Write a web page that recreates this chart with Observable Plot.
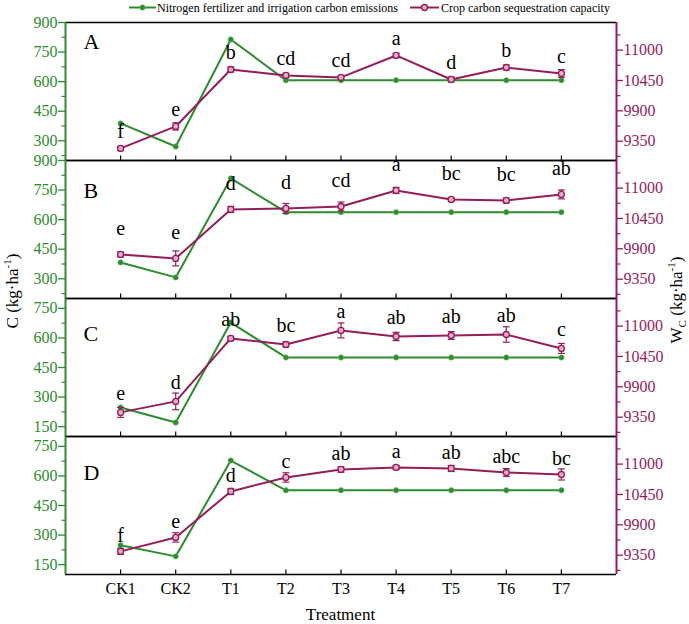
<!DOCTYPE html>
<html>
<head>
<meta charset="utf-8">
<script src="https://cdn.jsdelivr.net/npm/d3@7"></script>
<script src="https://cdn.jsdelivr.net/npm/@observablehq/plot@0.6"></script>
<style>
  body { margin: 0; background: #fff; }
  #chart { position: relative; width: 689px; height: 624px; font-family: "Liberation Serif", "Times New Roman", serif; }
  #chart svg { position: absolute; left: 0; }
  #overlay { top: 0; pointer-events: none; z-index: 2; }
</style>
</head>
<body>
<div id="chart"></div>
<script>
// Treatments along the x axis
const treatments = ["CK1", "CK2", "T1", "T2", "T3", "T4", "T5", "T6", "T7"];

// Nitrogen fertilizer and irrigation carbon emissions, C (kg·ha⁻¹), left axis
const emissionsA = [388, 271, 814, 607, 607, 607, 607, 607, 607];
const emissionsB = [383, 307, 809, 638, 638, 638, 638, 638, 638];
const emissionsC = [247, 171, 678, 501, 501, 501, 501, 501, 501];
const emissionsD = [248, 192, 678, 527, 527, 527, 527, 527, 527];

// Crop carbon sequestration capacity, Wc (kg·ha⁻¹), right axis, with error
const sequestrationA = [9219, 9617, 10649, 10541, 10505, 10903, 10468, 10685, 10577];
const sequestrationErrA = [35, 65, 45, 40, 35, 40, 45, 45, 70];
const sequestrationB = [9798, 9726, 10613, 10631, 10667, 10957, 10794, 10776, 10885];
const sequestrationErrB = [45, 135, 55, 90, 80, 55, 35, 45, 80];
const sequestrationC = [9437, 9636, 10776, 10667, 10921, 10812, 10830, 10848, 10595];
const sequestrationErrC = [90, 150, 40, 45, 135, 75, 70, 140, 90];
const sequestrationD = [9419, 9672, 10505, 10758, 10903, 10939, 10921, 10848, 10812];
const sequestrationErrD = [55, 85, 55, 85, 50, 35, 55, 70, 100];

// Significance letters for the sequestration series
const lettersA = ["f", "e", "b", "cd", "cd", "a", "d", "b", "c"];
const lettersB = ["e", "e", "d", "d", "cd", "a", "bc", "bc", "ab"];
const lettersC = ["e", "d", "ab", "bc", "a", "ab", "ab", "ab", "c"];
const lettersD = ["f", "e", "d", "c", "ab", "a", "ab", "abc", "bc"];

// Axis ticks
const leftTicksAB = [300, 450, 600, 750, 900];
const leftMinorAB = [225, 375, 525, 675, 825];
const leftTicksCD = [150, 300, 450, 600, 750];
const leftMinorCD = [225, 375, 525, 675];
const rightTicks = [9350, 9900, 10450, 11000];
const rightMinor = [9075, 9625, 10175, 10725, 11275];

const GREEN = "#2e8b2e";
const PURPLE = "#961c5a";
const FONT = "'Liberation Serif', 'Times New Roman', serif";

const W = 689, PANEL_H = 138, TOP = 22, ML = 65, MR = 73;

const panelDefs = [
  {tag: "A", emission: emissionsA, seq: sequestrationA, err: sequestrationErrA, letters: lettersA,
   left: [200, 900], ticks: leftTicksAB, minor: leftMinorAB, letterOffset: 10, tagDy: 26},
  {tag: "B", emission: emissionsB, seq: sequestrationB, err: sequestrationErrB, letters: lettersB,
   left: [200, 900], ticks: leftTicksAB, minor: leftMinorAB, letterOffset: 19, tagDy: 37},
  {tag: "C", emission: emissionsC, seq: sequestrationC, err: sequestrationErrC, letters: lettersC,
   left: [100, 800], ticks: leftTicksCD, minor: leftMinorCD, letterOffset: 12, tagDy: 42},
  {tag: "D", emission: emissionsD, seq: sequestrationD, err: sequestrationErrD, letters: lettersD,
   left: [100, 800], ticks: leftTicksCD, minor: leftMinorCD, letterOffset: 9, tagDy: 43}
];
const rightDomain = [9000, 11500];

// Horizontal cap for error bars and a short upward tick for the x positions
const capSymbol = {draw(ctx, size) { const r = Math.sqrt(size / Math.PI); ctx.moveTo(-r, 0); ctx.lineTo(r, 0); }};
const upTick = {draw(ctx, size) { const r = Math.sqrt(size / Math.PI); ctx.moveTo(0, 0); ctx.lineTo(0, -r); }};

const positions = treatments.map((_, i) => i + 1);
const chart = document.getElementById("chart");

panelDefs.forEach((cfg, k) => {
  const last = k === panelDefs.length - 1;
  // Map the right-axis values into the left-axis units of this panel
  const toLeft = d3.scaleLinear().domain(rightDomain).range(cfg.left);
  const rows = treatments.map((t, j) => ({
    pos: j + 1,
    emission: cfg.emission[j],
    seq: toLeft(cfg.seq[j]),
    lo: toLeft(cfg.seq[j] - cfg.err[j]),
    hi: toLeft(cfg.seq[j] + cfg.err[j]),
    letter: cfg.letters[j]
  }));

  const marks = [
    // frame: black top/bottom, coloured side axes
    Plot.ruleY([cfg.left[1]], {stroke: "black", strokeWidth: 1.6}),
    Plot.ruleY([cfg.left[0]], {stroke: "black", strokeWidth: 1.6}),
    Plot.ruleX([0], {stroke: GREEN, strokeWidth: 2}),
    Plot.ruleX([10], {stroke: PURPLE, strokeWidth: 2}),
    Plot.dot(positions, {x: d => d, frameAnchor: "bottom", symbol: upTick, r: 5, stroke: "black", fill: "none", strokeWidth: 1.2}),

    // left axis
    Plot.axisY({anchor: "left", ticks: cfg.ticks, tickSize: 7, tickPadding: 1, color: GREEN,
      tickFormat: v => String(v), fontSize: 16, fontFamily: FONT, label: null, strokeWidth: 1.3}),
    Plot.axisY({anchor: "left", ticks: cfg.minor, tickSize: 3.5, tickFormat: () => "", color: GREEN, label: null, strokeWidth: 1.2}),
    // right axis
    Plot.axisY({anchor: "right", ticks: rightTicks.map(toLeft), tickFormat: v => String(Math.round(toLeft.invert(v))),
      tickSize: 6, tickPadding: 1, color: PURPLE, fontSize: 16, fontFamily: FONT, label: null, strokeWidth: 1.3}),
    Plot.axisY({anchor: "right", ticks: rightMinor.map(toLeft), tickSize: 3.5, tickFormat: () => "", color: PURPLE, label: null, strokeWidth: 1.2}),

    // emissions series
    Plot.line(rows, {x: "pos", y: "emission", stroke: GREEN, strokeWidth: 2}),
    Plot.dot(rows, {x: "pos", y: "emission", r: 2.7, fill: GREEN, stroke: "#6fbf6f", strokeWidth: 0.6}),

    // sequestration series with error bars
    Plot.line(rows, {x: "pos", y: "seq", stroke: PURPLE, strokeWidth: 2}),
    Plot.ruleX(rows, {x: "pos", y1: "lo", y2: "hi", stroke: PURPLE, strokeWidth: 1.2}),
    Plot.dot(rows, {x: "pos", y: "lo", symbol: capSymbol, r: 3.5, stroke: PURPLE, fill: "none", strokeWidth: 1.2}),
    Plot.dot(rows, {x: "pos", y: "hi", symbol: capSymbol, r: 3.5, stroke: PURPLE, fill: "none", strokeWidth: 1.2}),
    Plot.dot(rows, {x: "pos", y: "seq", r: 3, fill: "#e2aecb", stroke: PURPLE, strokeWidth: 1.3}),

    // significance letters and panel tag
    Plot.text(rows, {x: "pos", y: "seq", text: "letter", dy: -cfg.letterOffset, lineAnchor: "bottom",
      fontSize: 20, fontFamily: FONT, fill: "black"}),
    Plot.text([cfg.tag], {frameAnchor: "top-left", dx: 18, dy: cfg.tagDy, textAnchor: "start", lineAnchor: "bottom",
      fontSize: 22, fontFamily: FONT, fill: "black"})
  ];

  if (last) {
    marks.push(Plot.axisX({anchor: "bottom", ticks: positions, tickSize: 0, tickPadding: 8,
      tickFormat: v => treatments[v - 1], fontSize: 16, fontFamily: FONT, label: null, color: "black"}));
  }

  const svg = Plot.plot({
    width: W,
    height: PANEL_H + (last ? 50 : 0),
    marginTop: 0,
    marginBottom: last ? 50 : 0,
    marginLeft: ML,
    marginRight: MR,
    style: {background: "transparent", overflow: "visible", fontFamily: FONT, fontSize: "16px"},
    x: {domain: [0, 10], axis: null},
    y: {domain: cfg.left, axis: null},
    marks
  });
  svg.style.top = (TOP + k * PANEL_H) + "px";
  chart.appendChild(svg);
});

// Legend and axis titles
const ns = "http://www.w3.org/2000/svg";
const overlay = document.createElementNS(ns, "svg");
overlay.setAttribute("id", "overlay");
overlay.setAttribute("width", W);
overlay.setAttribute("height", 624);
overlay.innerHTML = `
  <g font-family="${FONT}" fill="black">
    <line x1="129" x2="156" y1="7.5" y2="7.5" stroke="${GREEN}" stroke-width="2"/>
    <circle cx="142.5" cy="7.5" r="2.7" fill="${GREEN}" stroke="#6fbf6f" stroke-width="0.6"/>
    <text x="157" y="12" font-size="12">Nitrogen fertilizer and irrigation carbon emissions</text>
    <line x1="410" x2="439" y1="7.5" y2="7.5" stroke="${PURPLE}" stroke-width="2"/>
    <circle cx="424.5" cy="7.5" r="3" fill="#e2aecb" stroke="${PURPLE}" stroke-width="1.3"/>
    <text x="441" y="12" font-size="12">Crop carbon sequestration capacity</text>
    <text transform="translate(18,291) rotate(-90)" text-anchor="middle" font-size="17">C (kg·ha<tspan dy="-7" font-size="11">-1</tspan><tspan dy="7">)</tspan></text>
    <text transform="translate(682,300) rotate(-90)" text-anchor="middle" font-size="17">W<tspan dy="4" font-size="11">C</tspan><tspan dy="-4"> (kg·ha</tspan><tspan dy="-7" font-size="11">-1</tspan><tspan dy="7">)</tspan></text>
    <text x="340.5" y="620" text-anchor="middle" font-size="17">Treatment</text>
  </g>`;
chart.appendChild(overlay);
</script>
</body>
</html>
